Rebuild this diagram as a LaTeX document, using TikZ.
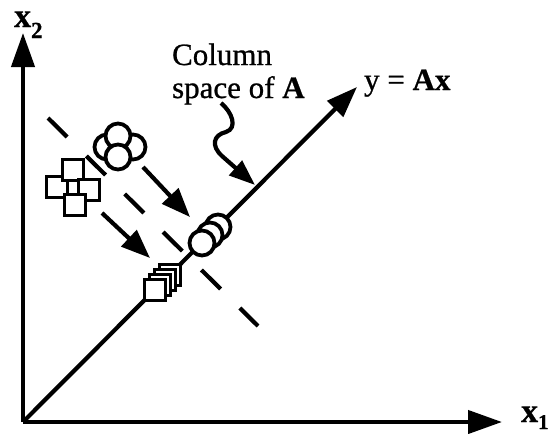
\documentclass[tikz,border=0pt]{standalone}
\usepackage{fontspec}
\setmainfont{Liberation Serif}[UprightFeatures={FakeBold=0.8},BoldFeatures={FakeBold=0.6}]
\usetikzlibrary{arrows.meta}
\begin{document}
\begin{tikzpicture}[x=1pt,y=-1pt, line width=4.2pt,
  axis/.style={-{Triangle[length=34pt,width=23pt]}},
  proj/.style={-{Triangle[length=29pt,width=22pt]}},
  sq/.style={draw, fill=white, rectangle, minimum size=21pt, inner sep=0pt, line width=3.8pt},
  ci/.style={draw, fill=white, circle, minimum size=25pt, inner sep=0pt, line width=3.8pt},
  lab/.style={font=\fontsize{31}{33}\selectfont, inner sep=0pt, anchor=base west}]
\useasboundingbox (0,0) rectangle (552,434);
% axes
\coordinate (O) at (23,422);
\coordinate (X2) at (23,33);
\coordinate (X1) at (502,422);
\coordinate (D) at (357,87);
\draw[axis] (O) -- (X2);
\draw[axis] (O) -- (X1);
\draw[-{Triangle[length=31pt,width=22pt]}] (O) -- (D);
% dashed perpendicular
\coordinate (P1) at (48,118);
\coordinate (P2) at (258,326);
\draw[dash pattern=on 27pt off 27pt] (P1) -- (P2);
% circle cluster
\node[ci] (cl) at (107,147) {};
\node[ci] (cr) at (133,147) {};
\node[ci] (ct) at (118,136) {};
\node[ci] (cb) at (118,157) {};
% square cluster
\node[sq] (sb) at (57,187) {};
\node[sq] (sa) at (73,170) {};
\node[sq] (sc) at (89,190) {};
\node[sq] (sd) at (75,205) {};
% projection arrows
\coordinate (a1s) at (143,167);
\coordinate (a1e) at (190,217);
\draw[proj] (a1s) -- (a1e);
\coordinate (a2s) at (102,213);
\coordinate (a2e) at (150,258);
\draw[proj] (a2s) -- (a2e);
% projected shapes
\foreach \i in {3,2,1,0} \node[sq] (q\i) at ({155+5*\i},{290-5*\i}) {};
\foreach \i in {2,1,0} \node[ci] (d\i) at ({202+8*\i},{243-8*\i}) {};
% labels
\node[lab] (col1) at (170,65) {Column};
\node[lab] (col2) at (170,98) {space of \textbf{A}};
\node[lab] (yax) at (362,90) {y = \textbf{Ax}};
\node[lab] (x2) at (12,27) {\fontsize{34}{34}\selectfont\textbf{x}\raisebox{-11pt}{\fontsize{23}{23}\selectfont\textbf{2}}};
\node[lab] (x1) at (519,422) {\fontsize{34}{34}\selectfont\textbf{x}\raisebox{-7pt}{\fontsize{21}{21}\selectfont\textbf{1}}};
% pointer
\coordinate (c0) at (221,103);
\coordinate (c2) at (255,185);
\draw[-{Triangle[length=26pt,width=19pt]}] (c0) .. controls (232,112) and (238,128) .. (226,132) .. controls (213,135) and (211,146) .. (222,156) -- (c2);
\end{tikzpicture}
\end{document}
